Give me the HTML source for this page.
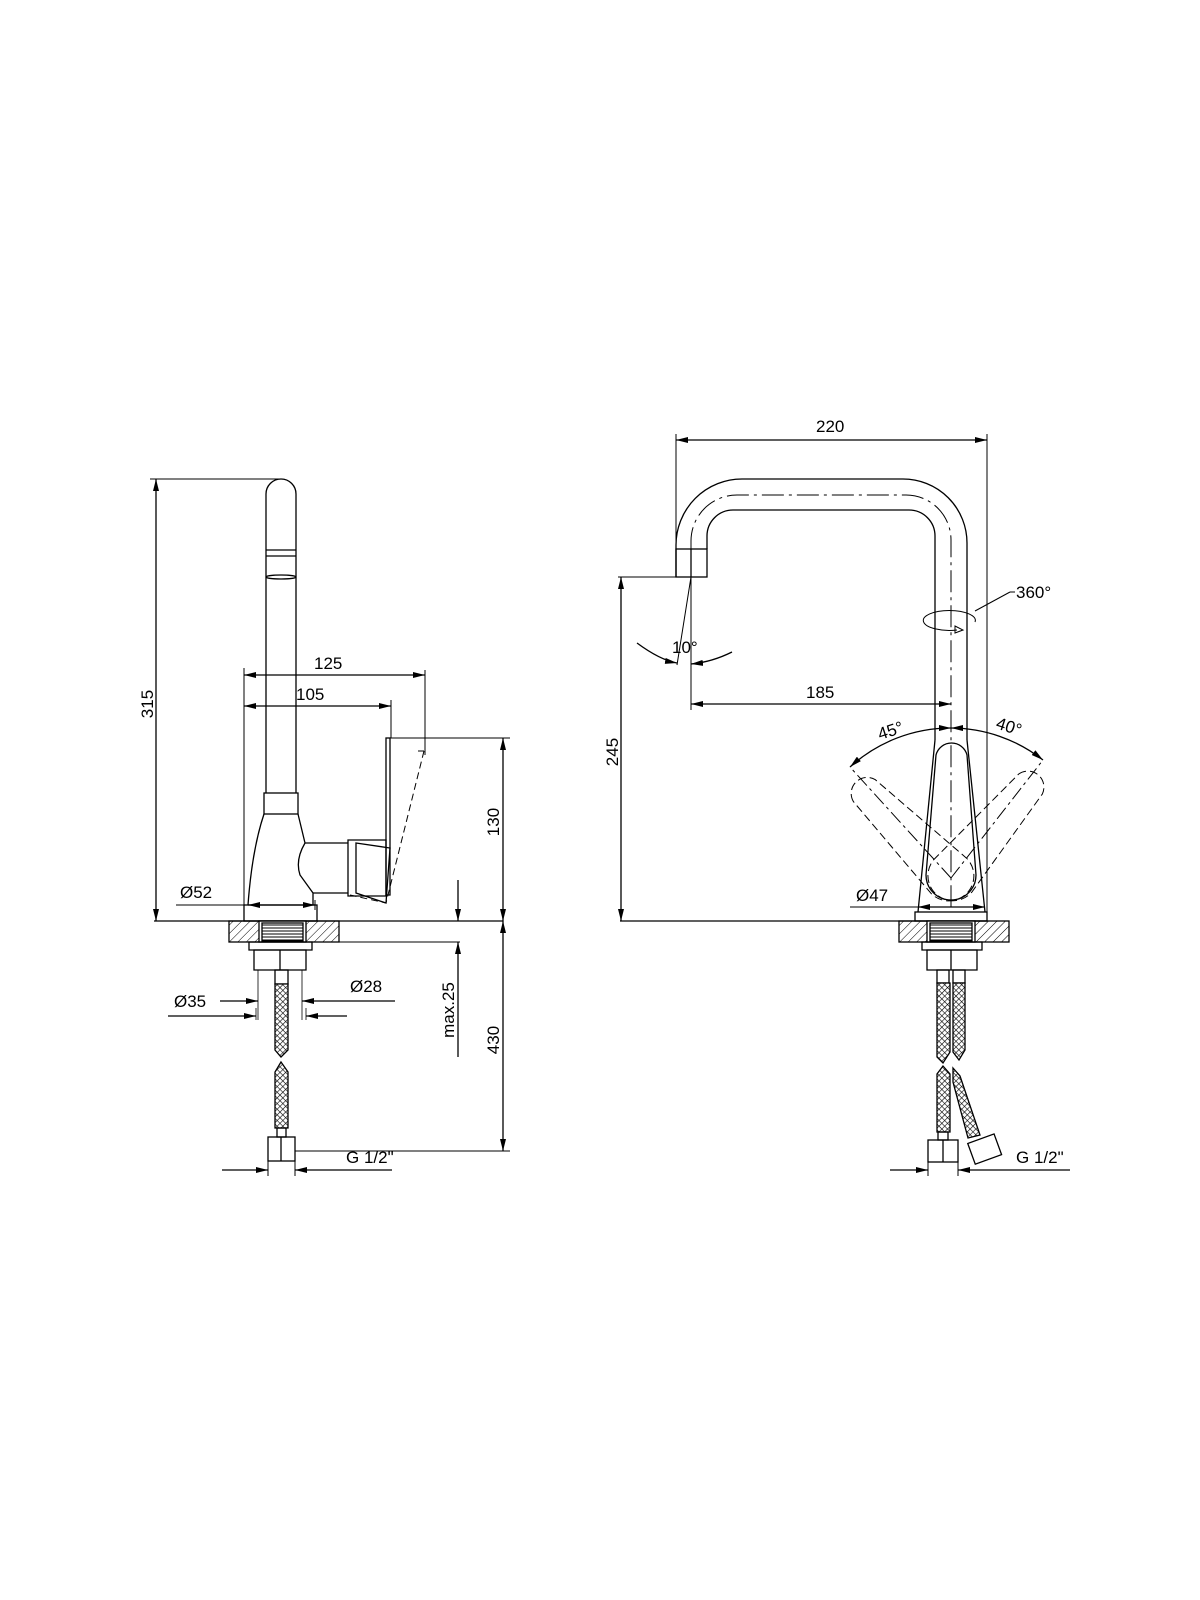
<!DOCTYPE html>
<html><head><meta charset="utf-8"><style>html,body{margin:0;padding:0;background:#fff}svg{display:block}text{font-family:"Liberation Sans",sans-serif;font-size:17px;fill:#000}</style></head><body>
<svg width="1200" height="1600" viewBox="0 0 1200 1600" xmlns="http://www.w3.org/2000/svg">
<defs>
<pattern id="h" width="6" height="6" patternUnits="userSpaceOnUse" patternTransform="rotate(45)"><line x1="0" y1="0" x2="0" y2="6" stroke="#000" stroke-width="1"/></pattern>
<pattern id="th" width="6" height="3" patternUnits="userSpaceOnUse"><line x1="0" y1="1" x2="6" y2="1" stroke="#000" stroke-width="1"/></pattern>
<pattern id="br" width="4" height="4" patternUnits="userSpaceOnUse" patternTransform="rotate(45)"><rect width="4" height="4" fill="#fff"/><line x1="0" y1="0" x2="0" y2="4" stroke="#000" stroke-width="1.2"/><line x1="0" y1="0" x2="4" y2="0" stroke="#000" stroke-width="1.2"/></pattern>
<marker id="a" viewBox="0 0 12 6" refX="12" refY="3" markerWidth="12" markerHeight="6" orient="auto-start-reverse" markerUnits="userSpaceOnUse"><path d="M0,0L12,3L0,6z" fill="#000"/></marker>
</defs>
<g fill="none" stroke="#000" stroke-width="1.3">
<!-- LEFT VIEW -->
<path d="M266,793V494A15,15 0 0 1 296,494V793"/>
<line x1="266" y1="550" x2="296" y2="550"/><line x1="266" y1="556" x2="296" y2="556"/>
<ellipse cx="281" cy="577" rx="15" ry="2"/>
<rect x="264" y="793" width="34" height="21"/>
<path d="M264,814Q252,850 248,905M298,814L305,843Q295,860 300,875L313,893V905"/>
<rect x="244" y="905" width="73" height="16"/>
<path d="M305,843H348M313,893H348"/>
<path d="M348,840H386V896H348Z"/>
<path d="M356,843L390,848L386,903L356,893Z"/>
<rect x="386" y="738" width="4" height="157"/>
<path d="M424,751L386,903L350,895" stroke-dasharray="7,4" stroke-width="1"/>
<path d="M418,751L424,751" stroke-width="1"/>
<!-- deck left -->
<rect x="229" y="921" width="110" height="21" fill="url(#h)"/>
<rect x="259" y="921" width="47" height="21" fill="#fff"/>
<rect x="262" y="923" width="41" height="18" fill="url(#th)"/>
<path d="M249,942H312V950H249Z"/>
<path d="M254,950H306V970H254Z"/><line x1="280" y1="950" x2="280" y2="970"/>
<line x1="258" y1="970" x2="258" y2="1020" stroke-width="0.8"/><line x1="302" y1="970" x2="302" y2="1020" stroke-width="0.8"/>
<rect x="275" y="970" width="13" height="14"/>
<path d="M275,984V1050L281,1057L288,1050V984Z" fill="url(#br)"/>
<path d="M281,1062L288,1072V1128H275V1072Z" fill="url(#br)"/>
<rect x="277" y="1128" width="9" height="9"/>
<rect x="268" y="1137" width="27" height="24"/><line x1="281" y1="1137" x2="281" y2="1161"/>
<!-- dims left -->
<line x1="154" y1="921" x2="503" y2="921"/>
<line x1="150" y1="479" x2="283" y2="479" stroke-width="1"/>
<line x1="156" y1="479" x2="156" y2="921" marker-start="url(#a)" marker-end="url(#a)"/>
<line x1="244" y1="668" x2="244" y2="905" stroke-width="1"/>
<line x1="244" y1="675" x2="425" y2="675" marker-start="url(#a)" marker-end="url(#a)"/>
<line x1="425" y1="670" x2="425" y2="755" stroke-width="1"/>
<line x1="244" y1="706" x2="391" y2="706" marker-start="url(#a)" marker-end="url(#a)"/>
<line x1="391" y1="700" x2="391" y2="738" stroke-width="1"/>
<line x1="390" y1="738" x2="510" y2="738" stroke-width="1"/>
<line x1="503" y1="738" x2="503" y2="921" marker-start="url(#a)" marker-end="url(#a)"/>
<line x1="503" y1="921" x2="503" y2="1151" marker-start="url(#a)" marker-end="url(#a)"/>
<line x1="295" y1="1151" x2="510" y2="1151" stroke-width="1"/>
<line x1="306" y1="942" x2="460" y2="942" stroke-width="1"/>
<line x1="458" y1="880" x2="458" y2="921" marker-end="url(#a)"/>
<line x1="458" y1="1057" x2="458" y2="942" marker-end="url(#a)"/>
<line x1="176" y1="905" x2="248" y2="905" stroke-width="1"/>
<line x1="248" y1="905" x2="315" y2="905" marker-start="url(#a)" marker-end="url(#a)"/>
<line x1="315" y1="900" x2="315" y2="910" stroke-width="1"/>
<line x1="220" y1="1001" x2="258" y2="1001" marker-end="url(#a)"/>
<line x1="395" y1="1001" x2="302" y2="1001" marker-end="url(#a)"/>
<line x1="168" y1="1016" x2="256" y2="1016" marker-end="url(#a)"/>
<line x1="347" y1="1016" x2="306" y2="1016" marker-end="url(#a)"/>
<line x1="256" y1="1008" x2="256" y2="1020" stroke-width="0.8"/><line x1="306" y1="1008" x2="306" y2="1020" stroke-width="0.8"/>
<line x1="268" y1="1161" x2="268" y2="1176" stroke-width="1"/><line x1="295" y1="1161" x2="295" y2="1176" stroke-width="1"/>
<line x1="222" y1="1170" x2="268" y2="1170" marker-end="url(#a)"/>
<line x1="392" y1="1170" x2="295" y2="1170" marker-end="url(#a)"/>

<!-- RIGHT VIEW -->
<path d="M676,577V545A66,66 0 0 1 742,479H903A64,64 0 0 1 967,543V740"/>
<path d="M707,549V536A26,26 0 0 1 733,510H909A26,26 0 0 1 935,536V740"/>
<path d="M691,549V541A46,46 0 0 1 737,495H906A45,45 0 0 1 951,540V912" stroke-dasharray="22,5,3,5" stroke-width="1"/>
<rect x="676" y="549" width="31" height="28"/><line x1="691" y1="549" x2="691" y2="577"/>
<path d="M935,740L918,912M967,740L985,912"/>
<path d="M936,755A16,16 0 0 1 967,755L976,875A25,25 0 0 1 926,875Z"/>
<rect x="915" y="912" width="72" height="9"/>
<g stroke-dasharray="8,4" stroke-width="1">
<g transform="rotate(-45 951 878)"><path d="M936,755A16,16 0 0 1 967,755L976,875A25,25 0 0 1 926,875Z"/></g>
<g transform="rotate(40 951 878)"><path d="M936,755A16,16 0 0 1 967,755L976,875A25,25 0 0 1 926,875Z"/></g>
</g>
<path d="M951,878L850,767M951,878L1043,760" stroke-dasharray="14,4,3,4" stroke-width="1"/>
<path d="M850,767A150,150 0 0 1 951,728" marker-start="url(#a)" marker-end="url(#a)"/>
<path d="M1043,760A150,150 0 0 0 951,728" marker-start="url(#a)" marker-end="url(#a)"/>
<line x1="935" y1="722" x2="935" y2="734" stroke-width="1"/><line x1="967" y1="722" x2="967" y2="734" stroke-width="1"/>
<!-- deck right -->
<rect x="899" y="921" width="110" height="21" fill="url(#h)"/>
<rect x="927" y="921" width="48" height="21" fill="#fff"/>
<rect x="930" y="923" width="42" height="18" fill="url(#th)"/>
<path d="M922,942H982V950H922Z"/>
<path d="M927,950H977V970H927Z"/><line x1="951" y1="950" x2="951" y2="970"/>
<rect x="937" y="970" width="12" height="13"/><rect x="953" y="970" width="12" height="13"/>
<path d="M937,983V1057L943,1063L950,1052V983Z" fill="url(#br)"/>
<path d="M953,983V1052L959,1060L965,1050V983Z" fill="url(#br)"/>
<path d="M943,1066L950,1074V1132H937V1074Z" fill="url(#br)"/>
<path d="M953,1068L960,1076L980,1135L968,1138L953,1082Z" fill="url(#br)"/>
<rect x="938" y="1132" width="10" height="8"/>
<rect x="928" y="1140" width="30" height="22"/><line x1="943" y1="1140" x2="943" y2="1162"/>
<g transform="rotate(-20 985 1150)"><rect x="971" y="1138" width="28" height="22"/></g>
<!-- dims right -->
<line x1="676" y1="434" x2="676" y2="577" stroke-width="1"/>
<line x1="987" y1="434" x2="987" y2="921" stroke-width="1"/>
<line x1="676" y1="440" x2="987" y2="440" marker-start="url(#a)" marker-end="url(#a)"/>
<line x1="618" y1="577" x2="676" y2="577" stroke-width="1"/>
<line x1="620" y1="921" x2="987" y2="921"/>
<line x1="621" y1="577" x2="621" y2="921" marker-start="url(#a)" marker-end="url(#a)"/>
<line x1="691" y1="577" x2="691" y2="710" stroke-width="1"/>
<line x1="691" y1="577" x2="677" y2="665" stroke-width="1"/>
<line x1="691" y1="704" x2="951" y2="704" marker-start="url(#a)" marker-end="url(#a)"/>
<path d="M637,643Q660,660 677,663" marker-end="url(#a)"/>
<path d="M732,652Q712,662 691,664" marker-end="url(#a)"/>
<path d="M957,630A26,10 0 1 1 975,622" stroke-width="1"/>
<path d="M955,626L963,630L955,633Z" stroke-width="1"/>
<line x1="975" y1="611" x2="1010" y2="592" stroke-width="1"/><line x1="1010" y1="592" x2="1015" y2="592" stroke-width="1"/>
<line x1="850" y1="907" x2="918" y2="907" stroke-width="1"/>
<line x1="918" y1="907" x2="985" y2="907" marker-start="url(#a)" marker-end="url(#a)"/>
<line x1="928" y1="1162" x2="928" y2="1176" stroke-width="1"/><line x1="958" y1="1162" x2="958" y2="1176" stroke-width="1"/>
<line x1="890" y1="1170" x2="928" y2="1170" marker-end="url(#a)"/>
<line x1="1070" y1="1170" x2="958" y2="1170" marker-end="url(#a)"/>
</g>
<text x="314" y="669">125</text>
<text x="296" y="700">105</text>
<text transform="translate(153,704) rotate(-90)" text-anchor="middle">315</text>
<text transform="translate(499,822) rotate(-90)" text-anchor="middle">130</text>
<text transform="translate(454,1010) rotate(-90)" text-anchor="middle">max.25</text>
<text transform="translate(499,1040) rotate(-90)" text-anchor="middle">430</text>
<text x="180" y="898">Ø52</text>
<text x="174" y="1007">Ø35</text>
<text x="350" y="992">Ø28</text>
<text x="346" y="1163">G 1/2"</text>
<text x="816" y="432">220</text>
<text transform="translate(618,752) rotate(-90)" text-anchor="middle">245</text>
<text x="806" y="698">185</text>
<text x="672" y="653">10°</text>
<text x="1016" y="598">360°</text>
<text transform="translate(880,740) rotate(-18)">45°</text>
<text transform="translate(995,728) rotate(18)">40°</text>
<text x="856" y="901">Ø47</text>
<text x="1016" y="1163">G 1/2"</text>
</svg>
</body></html>
